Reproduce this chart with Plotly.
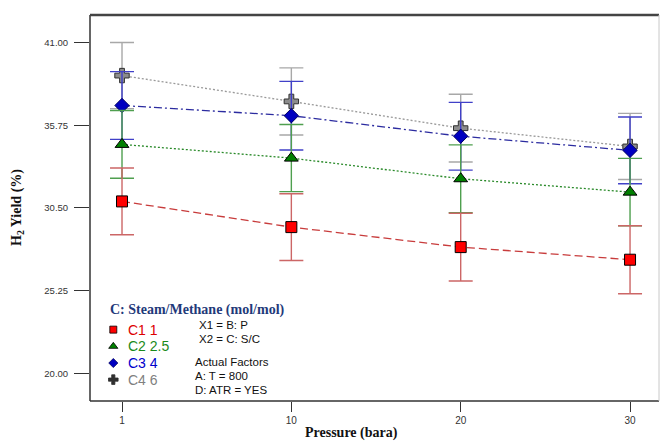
import plotly.graph_objects as go

# ---- data ----
pressure = ["1", "10", "20", "30"]
c1_yield = [30.91, 29.28, 28.01, 27.21]
c2_yield = [34.53, 33.66, 32.35, 31.50]
c3_yield = [37.00, 36.35, 35.05, 34.15]
c4_yield = [38.90, 37.26, 35.56, 34.40]
c1_err = [2.12, 2.12, 2.15, 2.16]
c2_err = [2.15, 2.13, 2.15, 2.14]
c3_err = [2.15, 2.18, 2.15, 2.12]
c4_err = [2.10, 2.13, 2.15, 2.10]
series_names = ["C1 1", "C2 2.5", "C3 4", "C4 6"]
y_tickvals = [20.00, 25.25, 30.50, 35.75, 41.00]
y_ticktext = ["20.00", "25.25", "30.50", "35.75", "41.00"]
x_ticktext = ["1", "10", "20", "30"]

styles = [
    dict(y=c4_yield, e=c4_err, line="#9a9a9a", dash="2px,2px", ecol="#a8a8a8",
         msym="cross", mcol="#8c8c8c", mline="#303030", msize=12, lsize=8, txt="#808080"),
    dict(y=c3_yield, e=c3_err, line="#2c2ca0", dash="8px,3px,2px,3px", ecol="#4040c8",
         msym="diamond", mcol="#0000c0", mline="#000060", msize=11, lsize=7, txt="#0000cc"),
    dict(y=c2_yield, e=c2_err, line="#2a8a2a", dash="2px,2px", ecol="#4f9f4f",
         msym="triangle-up", mcol="#008000", mline="#000000", msize=12, lsize=8, txt="#1a8a1a"),
    dict(y=c1_yield, e=c1_err, line="#c83c3c", dash="8px,4px", ecol="#cc6666",
         msym="square", mcol="#ff0000", mline="#000000", msize=11, lsize=7, txt="#dd0000"),
]
names_order = [series_names[3], series_names[2], series_names[1], series_names[0]]

fig = go.Figure()
for s, nm in zip(styles, names_order):
    fig.add_trace(go.Scatter(
        x=pressure, y=s["y"], mode="lines+markers", name=nm, showlegend=False,
        line=dict(color=s["line"], width=1.3, dash=s["dash"]),
        marker=dict(symbol=s["msym"], color=s["mcol"], size=s["msize"],
                    line=dict(color=s["mline"], width=1)),
        error_y=dict(type="data", array=s["e"], visible=True, color=s["ecol"],
                     thickness=1.4, width=12),
    ))

# legend keys on a pixel-coordinate overlay axis
PL, PR, PT, PB = 90, 659, 14.5, 400.7
leg_y = [329.3, 346.0, 362.7, 379.3]
leg_styles = list(reversed(styles))
for s, nm, yy in zip(leg_styles, series_names, leg_y):
    fig.add_trace(go.Scatter(
        x=[113.3], y=[yy], mode="markers", xaxis="x2", yaxis="y2", showlegend=False,
        marker=dict(symbol=s["msym"], color=s["mcol"] if s["msym"] != "cross" else "#303030",
                    size=s["lsize"], line=dict(color=s["mline"], width=0.8)),
        hoverinfo="skip",
    ))

annotations = []
for s, nm, yy in zip(leg_styles, series_names, leg_y):
    annotations.append(dict(x=126, y=yy, xref="x2", yref="y2", text=nm, showarrow=False,
                            xanchor="left", yanchor="middle",
                            font=dict(family="Arial, Liberation Sans", size=14, color=s["txt"])))
annotations.append(dict(x=108, y=310, xref="x2", yref="y2",
                        text="<b>C: Steam/Methane (mol/mol)</b>", showarrow=False,
                        xanchor="left", yanchor="middle",
                        font=dict(family="Liberation Serif, Times New Roman", size=14, color="#1f3a7a")))
info = [("X1 = B: P", 196.7, 324.3), ("X2 = C: S/C", 196.7, 339.0),
        ("Actual Factors", 192.7, 361.7), ("A: T = 800", 192.7, 376.0),
        ("D: ATR = YES", 192.7, 389.3)]
for t, xx, yy in info:
    annotations.append(dict(x=xx, y=yy, xref="x2", yref="y2", text=t, showarrow=False,
                            xanchor="left", yanchor="middle",
                            font=dict(family="Arial, Liberation Sans", size=11.5, color="#111111")))
# axis titles
annotations.append(dict(x=351, y=0, xref="x2", yref="paper", yshift=-32,
                        text="<b>Pressure (bara)</b>",
                        showarrow=False, xanchor="center", yanchor="middle",
                        font=dict(family="Liberation Serif, Times New Roman", size=14, color="#111")))
annotations.append(dict(x=0, y=0.5, xref="paper", yref="paper", text="<b>H<sub>2</sub> Yield (%)</b>",
                        showarrow=False, textangle=-90, xanchor="center", yanchor="middle", xshift=-73,
                        font=dict(family="Liberation Serif, Times New Roman", size=14, color="#111")))
for a in annotations:
    fig.add_annotation(**a)

shapes = [
    dict(type="line", xref="paper", yref="paper", x0=0, x1=0, y0=0, y1=1, line=dict(color="#333", width=1.5)),
    dict(type="line", xref="paper", yref="paper", x0=0, x1=1, y0=0, y1=0, line=dict(color="#333", width=1.5)),
    dict(type="line", xref="paper", yref="paper", x0=0, x1=1, y0=1, y1=1, line=dict(color="#444", width=2.5)),
    dict(type="line", xref="paper", yref="paper", x0=1, x1=1, y0=0, y1=1, line=dict(color="#c8c8c8", width=1)),
]

fig.update_layout(
    width=660, height=442, margin=dict(l=PL, r=660 - PR, t=PT, b=442 - PB),
    plot_bgcolor="white", paper_bgcolor="white", showlegend=False, shapes=shapes,
    xaxis=dict(type="category", categoryorder="array", categoryarray=pressure,
               range=[-0.189, 3.171], tickvals=pressure, ticktext=x_ticktext,
               ticks="outside", ticklen=10, tickwidth=1.3, tickcolor="#333",
               showgrid=False, zeroline=False, showline=False,
               tickfont=dict(family="Arial, Liberation Sans", size=10, color="#333")),
    yaxis=dict(range=[18.24, 42.745], tickvals=y_tickvals, ticktext=y_ticktext,
               ticks="outside", ticklen=15, tickwidth=1.3, tickcolor="#333",
               ticklabelstandoff=4,
               showgrid=False, zeroline=False, showline=False,
               tickfont=dict(family="Arial, Liberation Sans", size=9.5, color="#333")),
    xaxis2=dict(overlaying="x", anchor="y2", range=[PL, PR], visible=False),
    yaxis2=dict(overlaying="y", anchor="x2", range=[PB, PT], visible=False),
)

fig.write_html("out.html")
